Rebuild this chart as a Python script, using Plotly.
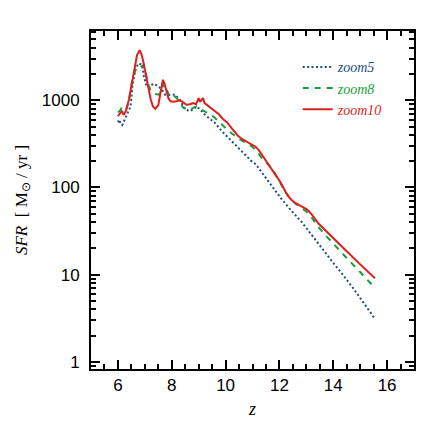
import plotly.graph_objects as go
import numpy as np

# ---- data ----
z_zoom10 = [6.0, 6.08, 6.14, 6.22, 6.3, 6.41, 6.5, 6.59, 6.71, 6.81, 6.87, 6.93, 7.0, 7.08, 7.15,
            7.22, 7.3, 7.39, 7.5, 7.6, 7.67, 7.73, 7.8, 7.88, 7.95, 8.05, 8.18, 8.3, 8.4, 8.55,
            8.67, 8.8, 8.9, 9.0, 9.05, 9.1, 9.16, 9.22, 9.3, 9.45, 9.6, 9.75, 9.9, 10.05, 10.26,
            10.45, 10.63, 10.8, 10.95, 11.1, 11.22, 11.37, 11.5, 11.61, 11.75, 11.86, 12.04, 12.22,
            12.35, 12.47, 12.6, 12.77, 12.9, 13.02, 13.1, 13.2, 13.45, 13.75, 14.0, 14.5, 15.0, 15.55]
sfr_zoom10 = [660, 700, 750, 680, 760, 1020, 1500, 2050, 3300, 3750, 3400, 2900, 2200, 1600, 1250,
              1020, 850, 800, 880, 1300, 1720, 1550, 1250, 1050, 980, 960, 975, 1000, 960, 890,
              900, 930, 900, 1060, 960, 1000, 1060, 930, 890, 810, 750, 690, 610, 560, 464,
              395, 355, 330, 310, 295, 272, 232, 205, 185, 160, 143, 115, 90,
              78, 71, 66, 62, 59, 56, 53, 49, 38.5, 31, 26, 18.5, 13.1, 9.1]

z_zoom8 = [6.0, 6.08, 6.15, 6.22, 6.3, 6.4, 6.53, 6.65, 6.75, 6.85, 6.96, 7.02, 7.1, 7.2, 7.3,
           7.4, 7.51, 7.6, 7.72, 7.8, 7.9, 8.0, 8.12, 8.24, 8.35, 8.43, 8.55, 8.67, 8.8, 8.92,
           9.05, 9.22, 9.35, 9.53, 9.7, 9.9, 10.1, 10.26, 10.5, 10.75, 10.95, 11.12, 11.25, 11.37,
           11.61, 11.8, 12.0, 12.2, 12.4, 12.6, 12.8, 13.0, 13.2, 13.45, 13.75, 14.0, 14.5, 15.0, 15.5]
sfr_zoom8 = [730, 760, 840, 810, 780, 950, 1700, 2200, 2450, 2400, 2550, 2200, 1600, 1330, 1220,
             1180, 1160, 1250, 1580, 1350, 1150, 1200, 1100, 1010, 900, 820, 790, 780, 820, 850,
             800, 750, 710, 660, 590, 510, 450, 410, 360, 325, 300, 270, 240, 212,
             180, 150, 118, 90, 74, 65, 59, 53, 45, 35, 27.5, 22.5, 15.5, 10.7, 7.3]

z_zoom5 = [6.0, 6.05, 6.1, 6.16, 6.25, 6.35, 6.47, 6.53, 6.6, 6.65, 6.77, 6.9, 6.96, 7.05, 7.15,
           7.25, 7.35, 7.45, 7.55, 7.63, 7.75, 7.9, 8.12, 8.3, 8.49, 8.67, 8.8, 8.92, 9.04, 9.29,
           9.59, 9.9, 10.26, 10.63, 10.75, 11.0, 11.12, 11.37, 11.49, 11.73, 12.1, 12.47, 12.83,
           13.26, 13.6, 14.0, 14.3, 14.8, 15.55]
sfr_zoom5 = [560, 600, 540, 520, 600, 700, 850, 1400, 1900, 2300, 2650, 2550, 1900, 1500, 1400,
             1500, 1550, 1480, 1400, 1320, 1160, 1150, 1160, 1010, 790, 750, 790, 850, 790, 660,
             555, 430, 330, 255, 230, 195, 185, 145, 130, 105, 72, 53, 40,
             27, 19.5, 13.6, 10.5, 6.6, 3.1]

y_major = [1, 10, 100, 1000]
y_minor = [m * 10 ** e for e in range(-1, 4) for m in range(2, 10)]
x_major = [6, 8, 10, 12, 14, 16]

BLUE = "#1d4e7c"
GREEN = "#16a03a"
RED = "#de1f1b"

fig = go.Figure()
fig.add_trace(go.Scatter(x=z_zoom5, y=sfr_zoom5, mode="lines",
                         line=dict(color=BLUE, width=2, dash="2px,2.4px"),
                         name=f"<span style='color:{BLUE}'><i>zoom5</i></span>"))
fig.add_trace(go.Scatter(x=z_zoom8, y=sfr_zoom8, mode="lines",
                         line=dict(color=GREEN, width=2, dash="6px,6px"),
                         name=f"<span style='color:{GREEN}'><i>zoom8</i></span>"))
fig.add_trace(go.Scatter(x=z_zoom10, y=sfr_zoom10, mode="lines",
                         line=dict(color=RED, width=2),
                         name=f"<span style='color:{RED}'><i>zoom10</i></span>"))

tickfont = dict(family="Liberation Sans, Arial, sans-serif", size=17, color="black")
serif = "Liberation Serif, Times New Roman, serif"
fig.update_layout(
    width=420, height=420,
    margin=dict(l=82, r=12, t=23, b=56),
    paper_bgcolor="white", plot_bgcolor="white",
    showlegend=True,
    legend=dict(x=0.64, y=0.94, xanchor="left", yanchor="top",
                bgcolor="rgba(0,0,0,0)", borderwidth=0,
                font=dict(family=serif, size=14),
                tracegroupgap=0),
)
fig.update_xaxes(
    range=[5, 17], tickvals=x_major, ticks="inside", ticklen=9, tickwidth=1.5,
    tickcolor="black", showline=True, linecolor="black", linewidth=1.8,
    mirror="allticks", showgrid=False, zeroline=False, tickfont=tickfont,
    minor=dict(dtick=0.5, tick0=5, ticks="inside", ticklen=5, tickwidth=1.5,
               tickcolor="black", showgrid=False),
    title=dict(text="<i>z</i>", font=dict(family=serif, size=18, color="black"), standoff=8),
)
fig.update_yaxes(
    type="log", range=[np.log10(0.826), 3.795], tickvals=y_major,
    ticktext=[str(v) for v in y_major],
    ticks="inside", ticklen=9, tickwidth=1.5, tickcolor="black",
    showline=True, linecolor="black", linewidth=1.8, mirror="allticks",
    showgrid=False, zeroline=False, tickfont=tickfont, ticklabelstandoff=6,
    minor=dict(tickvals=y_minor, ticks="inside", ticklen=5, tickwidth=1.5,
               tickcolor="black", showgrid=False),
    title=dict(text="<i>SFR</i>  [ M<sub>⊙</sub> / yr ]",
               font=dict(family=serif, size=17, color="black"), standoff=10),
)

fig.write_html("out.html")
